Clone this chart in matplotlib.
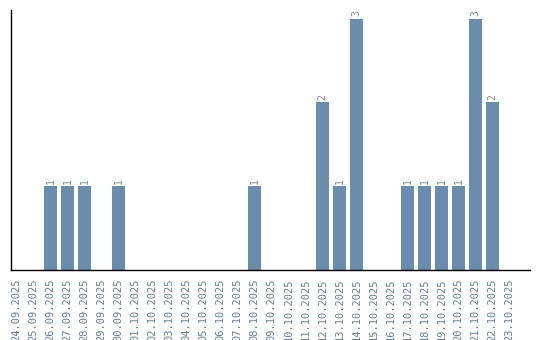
import matplotlib
matplotlib.use("Agg")
import matplotlib.pyplot as plt
import pandas as pd

dates = [d.strftime("%d.%m.%Y") for d in pd.date_range("2025-09-24", "2025-10-23")]
counts_map = {"26.09.2025": 1, "27.09.2025": 1, "28.09.2025": 1, "30.09.2025": 1,
              "08.10.2025": 1, "12.10.2025": 2, "13.10.2025": 1, "14.10.2025": 3,
              "17.10.2025": 1, "18.10.2025": 1, "19.10.2025": 1, "20.10.2025": 1,
              "21.10.2025": 3, "22.10.2025": 2}
values = [counts_map.get(d, 0) for d in dates]

bar_color = "#6a8cad"
text_color = "#5f7f9f"

fig = plt.figure(figsize=(5.4, 3.4), dpi=100)
ax = fig.add_axes([0.02, 0.206, 0.961, 0.764])
x = list(range(len(dates)))
bars = ax.bar(x, values, width=0.78, color=bar_color)
for xi, v in zip(x, values):
    if v > 0:
        ax.text(xi, v + 0.03, str(v), rotation=90, ha="center", va="bottom",
                fontsize=7, color="#7a8a9a", family="DejaVu Sans Mono")
ax.set_xlim(-0.35, 30.2)
ax.set_ylim(0, 3.1)
ax.set_xticks(x)
ax.set_xticklabels(dates, rotation=90, fontsize=7.5, color=text_color,
                   family="DejaVu Sans Mono")
ax.tick_params(axis="x", length=0, pad=6)
ax.set_yticks([])
ax.spines["top"].set_visible(False)
ax.spines["right"].set_visible(False)
ax.spines["left"].set_linewidth(1)
ax.spines["bottom"].set_linewidth(1)
fig.savefig("out.png", dpi=100)
